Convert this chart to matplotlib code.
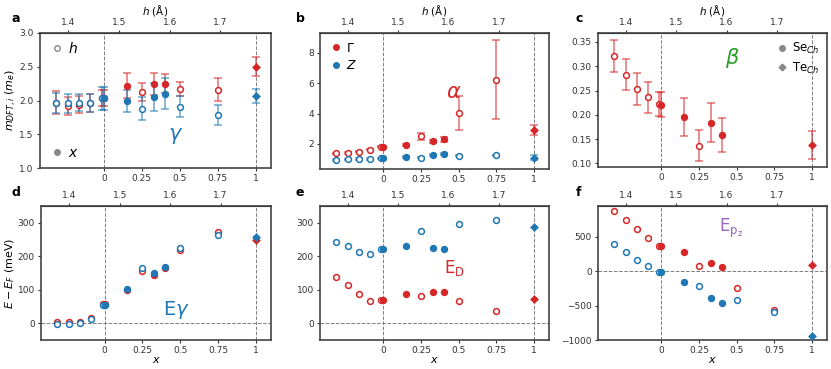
import numpy as np
import matplotlib.pyplot as plt
from matplotlib.lines import Line2D

plt.close('all')

# x positions: 5 strained-FeSe points (open, placed by h), then x points
x_pts = [-0.312, -0.236, -0.164, -0.089, -0.013, 0, 0.15, 0.25, 0.33, 0.4, 0.5, 0.75, 1]
# 'h' = open circle, 'x' = filled circle, 'te' = filled diamond
kinds = ['h', 'h', 'h', 'h', 'h', 'x', 'x', 'h', 'x', 'x', 'h', 'h', 'te']

nan = np.nan

# panel a : gamma masses
a_red = [1.97, 1.92, 1.94, 1.96, 2.04, 2.04, 2.22, 2.13, 2.24, 2.25, 2.17, 2.16, 2.50]
a_red_err = [0.17, 0.13, 0.13, 0.13, 0.12, 0.12, 0.19, 0.13, 0.16, 0.14, 0.11, 0.17, 0.14]
a_blue = [1.96, 1.96, 1.97, 1.96, 2.03, 2.03, 1.99, 1.88, 2.05, 2.10, 1.91, 1.78, 2.07]
a_blue_err = [0.15, 0.14, 0.13, 0.13, 0.17, 0.17, 0.16, 0.17, 0.21, 0.23, 0.15, 0.15, 0.10]

# panel b : alpha masses
b_red = [1.38, 1.40, 1.50, 1.62, 1.83, 1.83, 1.92, 2.50, 2.18, 2.30, 4.02, 6.22, 2.92]
b_red_err = [0.05, 0.05, 0.05, 0.05, 0.05, 0.05, 0.07, 0.25, 0.10, 0.18, 1.12, 2.60, 0.32]
b_blue = [0.95, 0.98, 1.00, 1.02, 1.05, 1.05, 1.13, 1.10, 1.28, 1.33, 1.22, 1.25, 1.10]
b_blue_err = [0.05, 0.05, 0.05, 0.05, 0.05, 0.05, 0.07, 0.05, 0.07, 0.07, 0.04, 0.04, 0.18]

# panel c : beta mass
c_red = [0.322, 0.283, 0.254, 0.236, 0.222, 0.221, 0.195, 0.136, 0.184, 0.159, nan, nan, 0.138]
c_red_err = [0.033, 0.031, 0.033, 0.032, 0.025, 0.025, 0.039, 0.032, 0.040, 0.035, nan, nan, 0.029]

# panel d : E_gamma (meV)
d_red = [5, 5, 5, 17, 58, 58, 99, 156, 145, 165, 219, 272, 250]
d_blue = [-2, -1, 0, 12, 55, 54, 101, 164, 150, 169, 226, 263, 258]

# panel e : E_D (meV)
e_red = [139, 115, 87, 67, 69, 69, 88, 80, 92, 94, 67, 38, 72]
e_blue = [243, 232, 213, 207, 222, 222, 231, 274, 226, 222, 295, 308, 288]

# panel f : E_pz (meV)
f_red = [875, 740, 610, 480, 370, 370, 285, 70, 120, 60, -250, -570, 90]
f_blue = [400, 285, 170, 75, -5, -5, -160, -215, -385, -460, -420, -590, -940]

xticks = [0, 0.25, 0.5, 0.75, 1]
xticklabels = ['0', '0.25', '0.5', '0.75', '1']
hticks = [1.4, 1.5, 1.6, 1.7]
h0, h1 = 1.47, 1.77   # h at x = 0 and x = 1

red = '#d62728'
blue = '#1f77b4'
gray = '#888888'


def x2h(x):
    return h0 + (h1 - h0) * np.asarray(x)


def h2x(h):
    return (np.asarray(h) - h0) / (h1 - h0)


def draw(ax, y, err, color, ms=4.2):
    for i, (xi, yi, k) in enumerate(zip(x_pts, y, kinds)):
        if np.isnan(yi):
            continue
        mk = 'D' if k == 'te' else 'o'
        mfc = 'white' if k == 'h' else color
        size = ms - 0.8 if k == 'te' else ms
        if err is not None:
            ax.errorbar(xi, yi, yerr=err[i], fmt='none', ecolor=color, alpha=0.65,
                        elinewidth=1.1, capsize=3, capthick=1.1, zorder=2)
        ax.plot(xi, yi, marker=mk, ms=size, mfc=mfc, mec=color, mew=1.1,
                ls='none', zorder=3)


def style(ax, ylim, top_label, bottom_label):
    ax.set_xlim(-0.42, 1.10)
    ax.set_ylim(*ylim)
    ax.axvline(0, color='gray', ls='--', lw=0.7, zorder=1)
    ax.axvline(1, color='gray', ls='--', lw=0.7, zorder=1)
    ax.set_xticks(xticks)
    ax.set_xticklabels(xticklabels)
    ax.tick_params(labelsize=6.5, length=2.5, width=0.8, colors='#333333', pad=2)
    for s in ax.spines.values():
        s.set_color('#444444')
        s.set_linewidth(1.2)
    sec = ax.secondary_xaxis('top', functions=(x2h, h2x))
    sec.set_xticks(hticks)
    sec.set_xticklabels([str(t) for t in hticks])
    sec.tick_params(labelsize=6.5, length=2.5, width=0.8, colors='#333333', pad=1.5)
    if top_label:
        sec.set_xlabel(r'$h$ (Å)', fontsize=7.5, labelpad=2.5)
    if bottom_label:
        ax.set_xlabel(r'$x$', fontsize=8, labelpad=0)


fig = plt.figure(figsize=(8.31, 3.69), dpi=100)
W, H = 831.0, 369.0


def add(l, t, r, b):
    return fig.add_axes([l / W, 1 - b / H, (r - l) / W, (b - t) / H])


ax_a = add(40, 33, 271, 168)
ax_b = add(320, 33, 549, 169)
ax_c = add(598, 33, 827, 167)
ax_d = add(41, 206, 271, 340)
ax_e = add(320, 206, 549, 340)
ax_f = add(598, 206, 827, 340)

# a
draw(ax_a, a_red, a_red_err, red)
draw(ax_a, a_blue, a_blue_err, blue)
style(ax_a, (1.0, 3.0), True, False)
ax_a.set_yticks([1.0, 1.5, 2.0, 2.5, 3.0])
ax_a.set_ylabel(r'$m_{DFT,i}\ (m_e)$', fontsize=8, labelpad=0.5)
ax_a.text(0.425, 1.47, r'$\gamma$', color=blue, fontsize=15, va='center')
leg1 = ax_a.legend(handles=[Line2D([], [], marker='o', ls='none', mfc='white', mec=gray, ms=4)],
                   labels=[r'$h$'], loc='upper left', frameon=False, fontsize=10,
                   handletextpad=0.2, borderaxespad=0.2, handlelength=1.2)
ax_a.add_artist(leg1)
ax_a.legend(handles=[Line2D([], [], marker='o', ls='none', color=gray, ms=4)],
            labels=[r'$x$'], loc='lower left', frameon=False, fontsize=10,
            handletextpad=0.2, borderaxespad=0.2, handlelength=1.2)

# b
draw(ax_b, b_red, b_red_err, red)
draw(ax_b, b_blue, b_blue_err, blue)
style(ax_b, (0.35, 9.3), True, False)
ax_b.set_yticks([2, 4, 6, 8])
ax_b.text(0.415, 5.45, r'$\alpha$', color=red, fontsize=15, va='center')
ax_b.legend(handles=[Line2D([], [], marker='o', ls='none', color=red, ms=4),
                     Line2D([], [], marker='o', ls='none', color=blue, ms=4)],
            labels=[r'$\Gamma$', r'$Z$'], loc='upper left', frameon=False, fontsize=9,
            handletextpad=0.2, borderaxespad=0.3, handlelength=1.2, labelspacing=0.35)

# c
draw(ax_c, c_red, c_red_err, red)
style(ax_c, (0.0926, 0.3685), True, False)
ax_c.set_yticks([0.10, 0.15, 0.20, 0.25, 0.30, 0.35])
ax_c.text(0.42, 0.317, r'$\beta$', color='#2ca02c', fontsize=15, va='center')
ax_c.legend(handles=[Line2D([], [], marker='o', ls='none', color=gray, ms=4),
                     Line2D([], [], marker='D', ls='none', color=gray, ms=3.4)],
            labels=[r'Se$_{Ch}$', r'Te$_{Ch}$'], loc='upper right', frameon=False, fontsize=8.5,
            handletextpad=0.2, borderaxespad=0.3, handlelength=1.2, labelspacing=0.35)

# d
draw(ax_d, d_red, None, red)
draw(ax_d, d_blue, None, blue)
style(ax_d, (-50, 350), False, True)
ax_d.axhline(0, color='gray', ls='--', lw=0.7, zorder=1)
ax_d.set_yticks([0, 100, 200, 300])
ax_d.set_ylabel(r'$E - E_F$ (meV)', fontsize=8, labelpad=0.5)
ax_d.text(0.385, 40, r'E$\gamma$', color=blue, fontsize=14, va='center')

# e
draw(ax_e, e_red, None, red)
draw(ax_e, e_blue, None, blue)
style(ax_e, (-50, 350), False, True)
ax_e.axhline(0, color='gray', ls='--', lw=0.7, zorder=1)
ax_e.set_yticks([0, 100, 200, 300])
ax_e.text(0.40, 165, r'E$_\mathrm{D}$', color=red, fontsize=12, va='center')

# f
draw(ax_f, f_red, None, red)
draw(ax_f, f_blue, None, blue)
style(ax_f, (-1000, 950), False, True)
ax_f.axhline(0, color='gray', ls='--', lw=0.7, zorder=1)
ax_f.set_yticks([-1000, -500, 0, 500])
ax_f.text(0.38, 620, r'E$_{\mathrm{p}_\mathrm{z}}$', color='#9467bd', fontsize=12, va='center')

for lab, ax, px in [('a', ax_a, 12), ('b', ax_b, 296), ('c', ax_c, 576),
                    ('d', ax_d, 12), ('e', ax_e, 296), ('f', ax_f, 576)]:
    py = 18 if lab in 'abc' else 193
    fig.text(px / W, 1 - py / H, lab, fontsize=9, fontweight='bold', va='center')

fig.savefig('out.png', dpi=100)
